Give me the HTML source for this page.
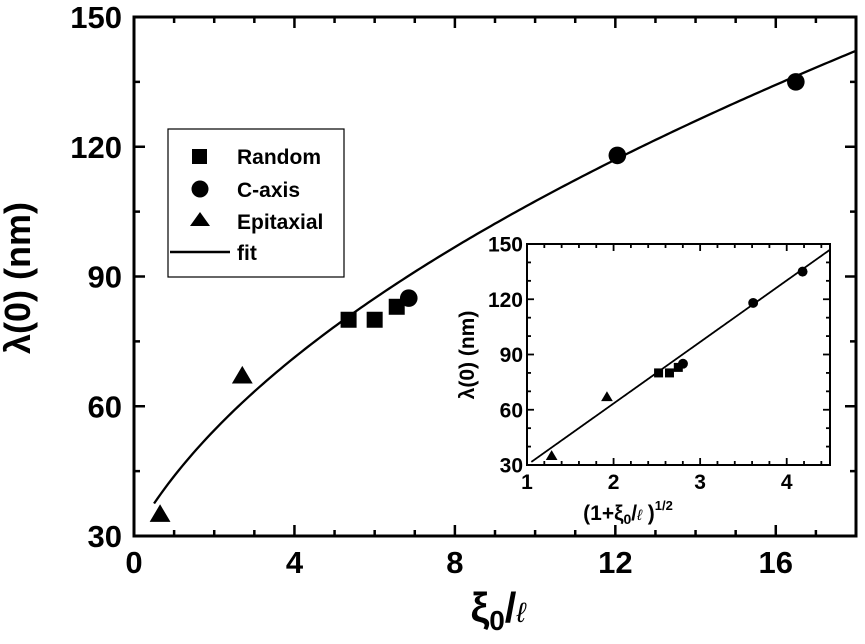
<!DOCTYPE html>
<html><head><meta charset="utf-8"><style>
body{margin:0;background:#fff;}
svg{display:block;font-family:"Liberation Sans",Arial,sans-serif;font-weight:bold;}
</style></head><body>
<svg id="chart" width="865" height="644" viewBox="0 0 865 644" xmlns="http://www.w3.org/2000/svg">
<g id="main"></g>
<g id="inset"></g>
<text x="30" y="278" font-size="36" text-anchor="middle" transform="rotate(-90 30 278)">λ(0) (nm)</text>
<text x="498" y="622" font-size="42" text-anchor="middle">ξ<tspan font-size="28" dy="8">0</tspan><tspan dy="-8">/</tspan><tspan font-style="italic" font-weight="normal" font-size="28">ℓ</tspan></text>
<g>
<rect x="168" y="129" width="176" height="148" fill="#fff" stroke="#000" stroke-width="1.2"/>
<rect x="192" y="149" width="15" height="15" fill="#000"/>
<text x="237" y="164" font-size="21">Random</text>
<circle cx="200" cy="189" r="8.5" fill="#000"/>
<text x="237" y="197" font-size="21">C-axis</text>
<polygon points="200,212 210,226 190,226" fill="#000"/>
<text x="237" y="229" font-size="21">Epitaxial</text>
<line x1="170" y1="252" x2="230" y2="252" stroke="#000" stroke-width="2.5"/>
<text x="237" y="260" font-size="21">fit</text>
</g>
</svg>
<script>
const randomX=[5.35,6.0,6.55];
const randomY=[80,80,83];
const caxisX=[6.85,12.05,16.5];
const caxisY=[85,118,135];
const epiX=[0.65,2.7];
const epiY=[35,67];
const fitSlope=33.4;
const fitIntercept=-3.4;
const mainXTicks=[0,4,8,12,16];
const mainYTicks=[30,60,90,120,150];
const insetXTicks=[1,2,3,4];
const insetYTicks=[30,60,90,120,150];

const NS="http://www.w3.org/2000/svg";
function mk(parent,tag,attrs){const e=document.createElementNS(NS,tag);for(const k in attrs)e.setAttribute(k,attrs[k]);parent.appendChild(e);return e;}

function drawPlot(g,cfg){
  const sx=v=>cfg.L+(v-cfg.x0)/(cfg.x1-cfg.x0)*(cfg.R-cfg.L);
  const sy=v=>cfg.B-(v-cfg.y0)/(cfg.y1-cfg.y0)*(cfg.B-cfg.T);
  const fr=mk(g,'rect',{x:cfg.L,y:cfg.T,width:cfg.R-cfg.L,height:cfg.B-cfg.T,fill:cfg.fill,stroke:'#000','stroke-width':cfg.sw});
  
  
  for(let v=cfg.x0;v<=cfg.x1+1e-9;v+=cfg.xm){
    const x=sx(v);const maj=cfg.xt.some(t=>Math.abs(t-v)<1e-6);const len=maj?cfg.maj:cfg.min;
    const t1=mk(g,'line',{x1:x,x2:x,y1:cfg.B,y2:cfg.B-len,stroke:'#000','stroke-width':cfg.tw});
    
    
    const t2=mk(g,'line',{x1:x,x2:x,y1:cfg.T,y2:cfg.T+len,stroke:'#000','stroke-width':cfg.tw});
    
    
  }
  for(let v=cfg.y0;v<=cfg.y1+1e-9;v+=cfg.ym){
    const y=sy(v);const maj=cfg.yt.some(t=>Math.abs(t-v)<1e-6);const len=maj?cfg.maj:cfg.min;
    const t1=mk(g,'line',{x1:cfg.L,x2:cfg.L+len,y1:y,y2:y,stroke:'#000','stroke-width':cfg.tw});
    
    
    const t2=mk(g,'line',{x1:cfg.R,x2:cfg.R-len,y1:y,y2:y,stroke:'#000','stroke-width':cfg.tw});
    
    
  }
  cfg.xt.forEach(v=>{const t=mk(g,'text',{x:sx(v),y:cfg.B+cfg.fs+cfg.xoff,'font-size':cfg.fs,'text-anchor':'middle'});t.textContent=v;
    
    });
  cfg.yt.forEach(v=>{const t=mk(g,'text',{x:cfg.L-cfg.yoff,y:sy(v)+cfg.fs*0.36,'font-size':cfg.fs,'text-anchor':'end'});t.textContent=v;
    
    });
  let d='';const n=200;
  for(let i=0;i<=n;i++){const v=cfg.fx0+(cfg.x1-cfg.fx0)*i/n;const yv=cfg.fit(v);d+=(i?'L':'M')+sx(v).toFixed(2)+' '+sy(yv).toFixed(2);}
  const fp=mk(g,'path',{d:d,fill:'none',stroke:'#000','stroke-width':cfg.lw});
  
  
  const m=cfg.ms;
  randomX.forEach((v,i)=>{const x=sx(cfg.tx(v)),y=sy(randomY[i]);const e=mk(g,'rect',{x:x-m/2,y:y-m/2,width:m,height:m,fill:'#000'});
    
    });
  caxisX.forEach((v,i)=>{const x=sx(cfg.tx(v)),y=sy(caxisY[i]);const e=mk(g,'circle',{cx:x,cy:y,r:m*0.55,fill:'#000'});
    
    });
  epiX.forEach((v,i)=>{const x=sx(cfg.tx(v)),y=sy(epiY[i]);const h=m*1.05;const e=mk(g,'polygon',{points:`${x},${y-h*0.6} ${x+h*0.62},${y+h*0.45} ${x-h*0.62},${y+h*0.45}`,fill:'#000'});
    
    });
}
const fitFn=s=>fitSlope*s+fitIntercept;
drawPlot(document.getElementById('main'),{p:'main-',L:134,R:856,T:17,B:536,x0:0,x1:18,y0:30,y1:150,xm:1,ym:15,xt:mainXTicks,yt:mainYTicks,
  fill:'none',sw:3,tw:2.5,maj:11,min:6,fs:31,xoff:6,yoff:12,lw:2.3,ms:16,tx:v=>v,fx0:0.5,fit:v=>fitFn(Math.sqrt(1+v))});
drawPlot(document.getElementById('inset'),{p:'inset-',L:527,R:830,T:244,B:465,x0:1,x1:4.5,y0:30,y1:150,xm:0.2,ym:10,xt:insetXTicks,yt:insetYTicks,
  fill:'#fff',sw:2,tw:1.8,maj:7,min:4,fs:21,xoff:3,yoff:4,lw:1.8,ms:9,tx:v=>Math.sqrt(1+v),fx0:1.05,fit:fitFn});
const ig=document.getElementById('inset');
const ty=mk(ig,'text',{x:474,y:355,'font-size':21,'text-anchor':'middle',transform:'rotate(-90 474 355)'});ty.textContent='λ(0) (nm)';


const tx=mk(ig,'text',{x:628,y:520,'font-size':21,'text-anchor':'middle'});
tx.innerHTML='(1+ξ<tspan font-size="14" dy="4">0</tspan><tspan dy="-4">/</tspan><tspan font-style="italic" font-weight="normal" font-size="15">ℓ</tspan> )<tspan font-size="13" dy="-10">1/2</tspan>';


</script>
</body></html>
